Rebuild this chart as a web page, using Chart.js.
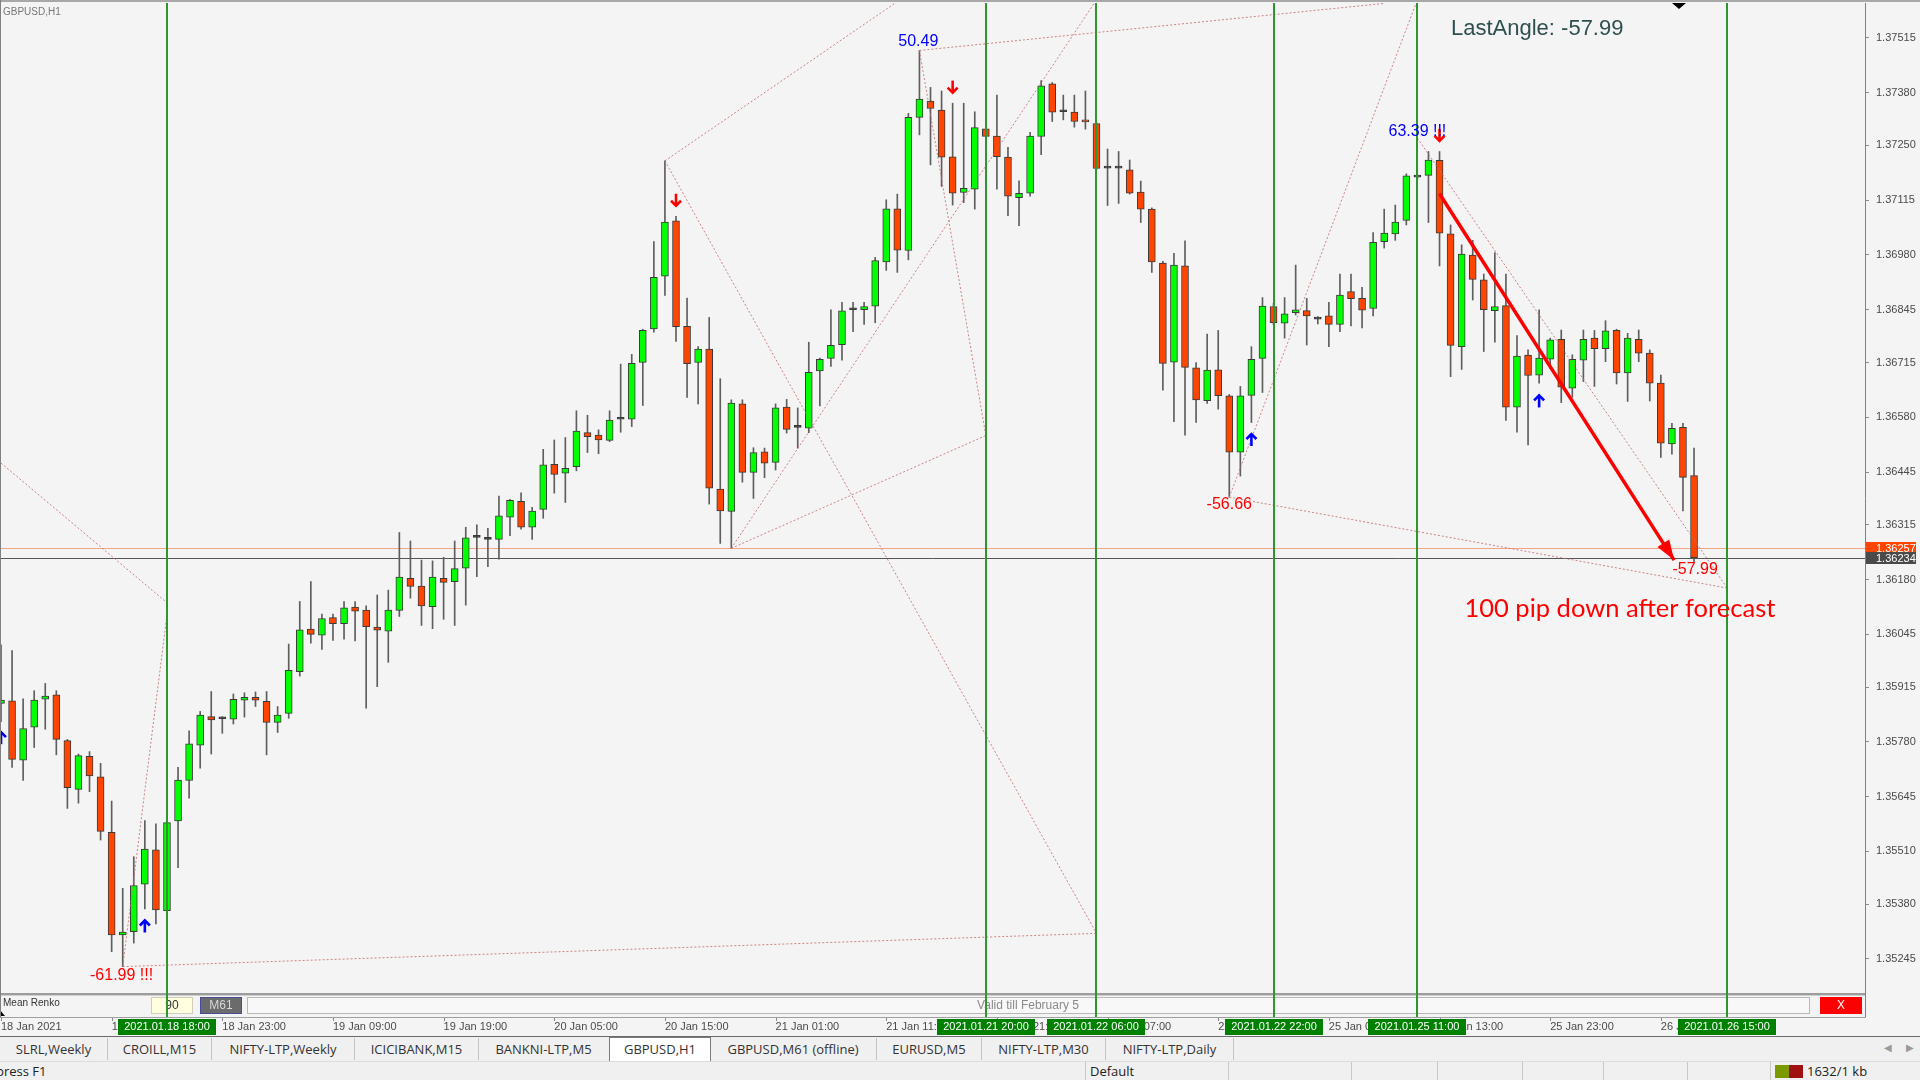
<!DOCTYPE html>
<html>
<head>
<meta charset="utf-8">
<script src="https://cdn.jsdelivr.net/npm/chart.js@4.4.0/dist/chart.umd.min.js"></script>
<style>
html, body { margin: 0; padding: 0; background: #f4f4f4; overflow: hidden; }
#wrap { position: relative; width: 1920px; height: 1080px; }
#chart { position: absolute; left: 0; top: 0; }
#tabs { position: absolute; left: 0; top: 1037px; width: 1920px; height: 24px; background: #f0f0f0;
        font-family: "Open Sans", sans-serif; font-size: 13px; color: #333; }
.tab { position: absolute; top: 1px; height: 22px; line-height: 22px; text-align: center; white-space: nowrap; }
.tab.sep { border-right: 1px solid #c4c4c4; }
.tab.active { background: #fff; border: 1px solid #7a7a7a; border-bottom: none; top: 0; height: 24px; }
#status { position: absolute; left: 0; top: 1061px; width: 1920px; height: 19px; background: #f0f0f0;
          font-family: "Open Sans", sans-serif; font-size: 13px; color: #222; border-top: 1px solid #dcdcdc; }
.cell { position: absolute; top: 0; height: 19px; line-height: 19px; border-left: 1px solid #c8c8c8; padding-left: 4px; white-space: nowrap; }
.nav { position: absolute; top: 1042px; font-size: 10px; color: #9a9a9a; font-family: "DejaVu Sans"; }
</style>
</head>
<body>
<div id="wrap">
  <canvas id="chart" width="1920" height="1080"></canvas>
  <div id="tabs"></div>
  <span class="nav" style="left:1884px">&#9664;</span>
  <span class="nav" style="left:1906px">&#9654;</span>
  <div id="status"></div>
</div>
<script>
/* ================= DATA (GBPUSD H1, bar 0 = 18 Jan 03:00) ================= */
const opens = [1.35875,1.35881,1.35735,1.35816,1.35885,1.35896,1.35783,1.35663,1.35744,1.35694,
  1.35557,1.35304,1.35312,1.35429,1.35514,1.35364,1.35585,1.35685,1.35772,1.35842,
  1.35837,1.35836,1.35883,1.35890,1.35880,1.35828,1.35850,1.35953,1.36058,1.36043,
  1.36086,1.36071,1.36112,1.36105,1.36063,1.36053,1.36104,1.36183,1.36164,1.36113,
  1.36183,1.36175,1.36208,1.36284,1.36279,1.36279,1.36334,1.36373,1.36309,1.36353,
  1.36464,1.36442,1.36458,1.36542,1.36536,1.36523,1.36575,1.36575,1.36715,1.36798,
  1.36928,1.37064,1.36804,1.36715,1.36748,1.36403,1.36348,1.36613,1.36444,1.36495,
  1.36469,1.36605,1.36555,1.36553,1.36694,1.36725,1.36759,1.36845,1.36845,1.36854,
  1.36963,1.37094,1.36991,1.37319,1.37359,1.37337,1.37222,1.37134,1.37142,1.37291,
  1.37273,1.37221,1.37121,1.37132,1.37272,1.37402,1.37333,1.37332,1.37312,1.37304,
  1.37194,1.37194,1.37190,1.37135,1.37093,1.36960,1.36716,1.36953,1.36702,1.36621,
  1.36697,1.36633,1.36494,1.36634,1.36725,1.36853,1.36812,1.36838,1.36843,1.36822,
  1.36830,1.36809,1.36890,1.36873,1.36848,1.37013,1.37032,1.37065,1.37172,1.37176,
  1.37213,1.37032,1.36754,1.36980,1.36919,1.36843,1.36855,1.36605,1.36733,1.36684,
  1.36723,1.36772,1.36652,1.36721,1.36775,1.36749,1.36794,1.36689,1.36772,1.36738,
  1.36664,1.36514,1.36555,1.36436];
const highs = [1.36019,1.36005,1.35886,1.35906,1.35924,1.35906,1.35786,1.35750,1.35756,1.35727,
  1.35634,1.35419,1.35497,1.35586,1.35578,1.35585,1.35717,1.35807,1.35855,1.35904,
  1.35842,1.35898,1.35901,1.35903,1.35904,1.35867,1.36021,1.36126,1.36175,1.36095,
  1.36095,1.36126,1.36126,1.36115,1.36142,1.36154,1.36296,1.36275,1.36228,1.36226,
  1.36235,1.36275,1.36309,1.36315,1.36306,1.36386,1.36378,1.36394,1.36358,1.36501,
  1.36524,1.36530,1.36596,1.36585,1.36549,1.36596,1.36711,1.36735,1.36797,1.37013,
  1.37212,1.37075,1.36874,1.36754,1.36826,1.36675,1.36623,1.36623,1.36505,1.36504,
  1.36613,1.36624,1.36603,1.36765,1.36726,1.36845,1.36863,1.36863,1.36863,1.36974,
  1.37116,1.37130,1.37329,1.37484,1.37393,1.37384,1.37354,1.37354,1.37333,1.37295,
  1.37374,1.37245,1.37163,1.37282,1.37410,1.37405,1.37374,1.37374,1.37384,1.37306,
  1.37241,1.37235,1.37214,1.37162,1.37096,1.36964,1.36984,1.37015,1.36715,1.36785,
  1.36794,1.36636,1.36656,1.36754,1.36875,1.36861,1.36875,1.36955,1.36873,1.36828,
  1.36863,1.36933,1.36933,1.36900,1.37035,1.37093,1.37103,1.37180,1.37177,1.37235,
  1.37235,1.37054,1.37005,1.37016,1.36933,1.36986,1.36933,1.36781,1.36746,1.36845,
  1.36775,1.36795,1.36734,1.36795,1.36794,1.36818,1.36797,1.36787,1.36795,1.36746,
  1.36684,1.36565,1.36565,1.36504];
const lows = [1.35830,1.35717,1.35685,1.35766,1.35811,1.35748,1.35616,1.35629,1.35657,1.35538,
  1.35263,1.35226,1.35284,1.35368,1.35331,1.35360,1.35470,1.35641,1.35715,1.35750,
  1.35801,1.35824,1.35841,1.35867,1.35748,1.35803,1.35838,1.35942,1.36023,1.36008,
  1.36030,1.36033,1.36029,1.35863,1.35916,1.35976,1.36089,1.36134,1.36067,1.36059,
  1.36082,1.36067,1.36117,1.36187,1.36212,1.36230,1.36288,1.36304,1.36279,1.36331,
  1.36393,1.36370,1.36448,1.36493,1.36490,1.36520,1.36543,1.36557,1.36609,1.36790,
  1.36880,1.36767,1.36629,1.36613,1.36366,1.36269,1.36257,1.36420,1.36380,1.36431,
  1.36450,1.36541,1.36504,1.36542,1.36608,1.36705,1.36721,1.36791,1.36809,1.36813,
  1.36942,1.36937,1.36968,1.37276,1.37202,1.37149,1.37103,1.37109,1.37093,1.37270,
  1.37142,1.37077,1.37052,1.37125,1.37227,1.37309,1.37313,1.37295,1.37290,1.37191,
  1.37102,1.37107,1.37130,1.37060,1.36937,1.36647,1.36569,1.36536,1.36567,1.36614,
  1.36600,1.36383,1.36435,1.36567,1.36641,1.36808,1.36775,1.36832,1.36758,1.36810,
  1.36754,1.36791,1.36805,1.36800,1.36830,1.36997,1.37016,1.37054,1.37167,1.37060,
  1.36953,1.36680,1.36698,1.36869,1.36742,1.36765,1.36572,1.36543,1.36512,1.36664,
  1.36701,1.36616,1.36629,1.36668,1.36656,1.36717,1.36662,1.36619,1.36717,1.36620,
  1.36481,1.36489,1.36349,1.36224];
const closes = [1.35883,1.35737,1.35813,1.35883,1.35893,1.35786,1.35667,1.35746,1.35696,1.35559,
  1.35304,1.35311,1.35426,1.35516,1.35366,1.35581,1.35686,1.35775,1.35846,1.35834,
  1.35837,1.35885,1.35890,1.35883,1.35828,1.35846,1.35956,1.36056,1.36045,1.36084,
  1.36071,1.36110,1.36102,1.36064,1.36055,1.36105,1.36186,1.36163,1.36115,1.36186,
  1.36173,1.36207,1.36283,1.36284,1.36279,1.36337,1.36375,1.36309,1.36349,1.36463,
  1.36439,1.36454,1.36546,1.36532,1.36524,1.36573,1.36575,1.36713,1.36794,1.36925,
  1.37061,1.36803,1.36712,1.36748,1.36405,1.36349,1.36615,1.36444,1.36493,1.36467,
  1.36603,1.36550,1.36555,1.36691,1.36723,1.36757,1.36842,1.36845,1.36853,1.36966,
  1.37094,1.36992,1.37319,1.37364,1.37341,1.37221,1.37132,1.37144,1.37294,1.37272,
  1.37222,1.37125,1.37132,1.37273,1.37397,1.37332,1.37333,1.37309,1.37308,1.37193,
  1.37194,1.37194,1.37132,1.37093,1.36963,1.36713,1.36955,1.36703,1.36623,1.36696,
  1.36633,1.36494,1.36633,1.36723,1.36854,1.36813,1.36835,1.36845,1.36830,1.36822,
  1.36809,1.36881,1.36872,1.36844,1.37011,1.37034,1.37061,1.37175,1.37172,1.37214,
  1.37034,1.36757,1.36982,1.36920,1.36845,1.36853,1.36605,1.36731,1.36683,1.36726,
  1.36771,1.36654,1.36723,1.36772,1.36749,1.36793,1.36689,1.36775,1.36738,1.36664,
  1.36516,1.36553,1.36432,1.36234];

const xTickIdx = [0, 10, 20, 30, 40, 50, 60, 70, 80, 90, 100, 110, 120, 130, 140, 150];
const xTickLabels = ["18 Jan 2021", "18 Jan 13:00", "18 Jan 23:00", "19 Jan 09:00", "19 Jan 19:00",
  "20 Jan 05:00", "20 Jan 15:00", "21 Jan 01:00", "21 Jan 11:00", "21 Jan 21:00", "22 Jan 07:00",
  "22 Jan 17:00", "25 Jan 03:00", "25 Jan 13:00", "25 Jan 23:00", "26 Jan 09:00"];
const yTickLabels = ["1.37515", "1.37380", "1.37250", "1.37115", "1.36980", "1.36845", "1.36715",
  "1.36580", "1.36445", "1.36315", "1.36180", "1.36045", "1.35915", "1.35780", "1.35645",
  "1.35510", "1.35380", "1.35245"];

// vertical time lines
const vlineIdx = [15, 89, 99, 115, 128, 156];
const vlineLabels = ["2021.01.18 18:00", "2021.01.21 20:00", "2021.01.22 06:00",
  "2021.01.22 22:00", "2021.01.25 11:00", "2021.01.26 15:00"];

// dotted angle lines
const zzStartIdx   = [0, 15, 11, 60, 60, 66, 66, 83, 83, 111, 111, 128];
const zzStartPrice = [1.36467, 1.36093, 1.35226, 1.37212, 1.37212, 1.36257, 1.36257, 1.37484, 1.37484, 1.36383, 1.36383, 1.37268];
const zzEndIdx     = [15, 11, 99, 99, 82, 99, 89, 89, 125, 128, 156, 156];
const zzEndPrice   = [1.36123, 1.35226, 1.35308, 1.35308, 1.37623, 1.37609, 1.36535, 1.36535, 1.37600, 1.37609, 1.36159, 1.36159];

// forecast arrow
const fcIdx = [130, 151.2];
const fcPrice = [1.37131, 1.36228];

// signal arrows
const downArrowIdx = [61, 86, 130];
const downArrowPrice = [1.37116, 1.37395, 1.37276];
const upArrowIdx = [0, 13, 113, 139];
const upArrowPrice = [1.35789, 1.35325, 1.36524, 1.36619];

// angle labels
const angleText = ["50.49", "63.39 !!!", "-56.66", "-57.99", "-61.99 !!!"];
const angleIdx = [82.9, 128, 111, 153.1, 10.9];
const anglePrice = [1.37505, 1.37283, 1.36364, 1.36204, 1.35205];

const noteText = "100 pip down after forecast";
const noteIdx = 146.3, notePrice = 1.36110;
const lastAngleText = "LastAngle: -57.99";

const bidPrice = 1.36234;
const askPrice = 1.36257;

const tabNames = ["SLRL,Weekly", "CROILL,M15", "NIFTY-LTP,Weekly", "ICICIBANK,M15", "BANKNI-LTP,M5",
  "GBPUSD,H1", "GBPUSD,M61 (offline)", "EURUSD,M5", "NIFTY-LTP,M30", "NIFTY-LTP,Daily"];
const tabEdges = [0, 108, 212, 355, 479, 609, 710, 877, 982, 1106, 1234];
const activeTab = 5;

/* ================= TABS & STATUS BAR ================= */
const tabsEl = document.getElementById("tabs");
tabNames.forEach((name, i) => {
    const d = document.createElement("div");
    d.className = "tab" + (i === activeTab ? " active" : (i + 1 !== activeTab ? " sep" : ""));
    d.style.left = tabEdges[i] + "px";
    d.style.width = (tabEdges[i + 1] - tabEdges[i] - 1) + "px";
    d.textContent = name;
    tabsEl.appendChild(d);
});

const statusEl = document.getElementById("status");
statusEl.innerHTML =
    "<span style='position:absolute;left:-4px;top:0;line-height:19px'>press F1</span>" +
    "<div class='cell' style='left:1085px;width:138px'>Default</div>" +
    [1228, 1351, 1437, 1522, 1603, 1687].map(x => `<div class='cell' style='left:${x}px;width:70px'></div>`).join("") +
    "<div class='cell' style='left:1770px;width:140px'>" +
    "<span style='display:inline-block;width:28px;height:13px;vertical-align:-2px;margin-right:4px;" +
    "background:linear-gradient(to right,#7a9a00 0 50%,#a01010 50%)'></span>1632/1 kb</div>";

/* ================= CHART ================= */
const idx = opens.map((_, i) => i);
const wickData = idx.map(i => ({ x: i, y: [lows[i], highs[i]] }));
const bodyData = idx.map(i => ({ x: i, y: [opens[i], closes[i]] }));
const bodyColors = idx.map(i => closes[i] > opens[i] ? "#00ff00" : (closes[i] < opens[i] ? "#ff4500" : "#333333"));

const zzSets = zzStartIdx.map((s, k) => ({
    type: "line",
    data: [{ x: s, y: zzStartPrice[k] }, { x: zzEndIdx[k], y: zzEndPrice[k] }],
    borderColor: "rgba(196,110,110,0.85)",
    borderWidth: 1,
    borderDash: [2, 2],
    pointRadius: 0,
    order: 0
}));

const fcSet = {
    type: "line",
    data: [{ x: fcIdx[0], y: fcPrice[0] }, { x: fcIdx[1], y: fcPrice[1] }],
    borderColor: "#ff0000",
    borderWidth: 3.5,
    pointRadius: 0,
    order: 0
};

const FONT = "'Liberation Sans', Arial, sans-serif";

function drawSignal(ctx, x, y, up, color) {
    const d = up ? -1 : 1;
    ctx.save();
    ctx.strokeStyle = color;
    ctx.lineWidth = 2.6;
    ctx.beginPath();
    ctx.moveTo(x, y - 6 * d);
    ctx.lineTo(x, y + 5 * d);
    ctx.stroke();
    ctx.beginPath();
    ctx.moveTo(x - 5, y + 1 * d);
    ctx.lineTo(x, y + 6 * d);
    ctx.lineTo(x + 5, y + 1 * d);
    ctx.stroke();
    ctx.restore();
}

const mt4Plugin = {
    id: "mt4",
    beforeDraw(chart) {
        const ctx = chart.ctx;
        ctx.save();
        ctx.fillStyle = "#f4f4f4";
        ctx.fillRect(0, 0, chart.width, chart.height);
        ctx.restore();
    },
    beforeDatasetsDraw(chart) {
        const { ctx, chartArea: a, scales: { y } } = chart;
        ctx.save();
        // indicator sub-window (Mean Renko)
        ctx.fillStyle = "#9c9c9c";
        ctx.fillRect(0, a.bottom, a.right, 2);
        ctx.fillStyle = "#d0d0d0";
        ctx.fillRect(0, a.bottom + 2, a.right, 1);
        ctx.fillStyle = "#a0a0a0";
        ctx.fillRect(0, 1017, a.right + 1, 1);
        ctx.font = "10px " + FONT;
        ctx.fillStyle = "#333";
        ctx.textBaseline = "middle";
        ctx.fillText("Mean Renko", 3, 1003);
        ctx.beginPath();
        ctx.moveTo(0, 1010); ctx.lineTo(0, 1016); ctx.lineTo(5, 1016); ctx.closePath();
        ctx.fillStyle = "#000"; ctx.fill();

        ctx.font = "12px " + FONT;
        ctx.textAlign = "center";
        ctx.fillStyle = "#ffffe0"; ctx.fillRect(151, 997, 42, 17);
        ctx.strokeStyle = "#cfcfb8"; ctx.lineWidth = 1; ctx.strokeRect(151.5, 997.5, 41, 16);
        ctx.fillStyle = "#333"; ctx.fillText("90", 172, 1006);
        ctx.fillStyle = "#6b6b6b"; ctx.fillRect(200, 997, 42, 17);
        ctx.strokeStyle = "#4a4a9a"; ctx.strokeRect(200.5, 997.5, 41, 16);
        ctx.fillStyle = "#d8d8d8"; ctx.fillText("M61", 221, 1006);
        ctx.fillStyle = "#f8f8f8"; ctx.fillRect(247, 997, 1562, 17);
        ctx.strokeStyle = "#b8b8b8"; ctx.strokeRect(247.5, 997.5, 1562, 16);
        ctx.fillStyle = "#8a8a8a"; ctx.fillText("Valid till February 5", 1028, 1006);
        ctx.fillStyle = "#ff0000"; ctx.fillRect(1820, 997, 42, 17);
        ctx.fillStyle = "#fff"; ctx.fillText("X", 1841, 1006);

        // ask / bid lines
        ctx.lineWidth = 1;
        ctx.strokeStyle = "#f2a585";
        const ya = Math.round(y.getPixelForValue(askPrice)) + 0.5;
        ctx.beginPath(); ctx.moveTo(a.left, ya); ctx.lineTo(a.right, ya); ctx.stroke();
        ctx.strokeStyle = "#555";
        const yb = Math.round(y.getPixelForValue(bidPrice)) + 0.5;
        ctx.beginPath(); ctx.moveTo(a.left, yb); ctx.lineTo(a.right, yb); ctx.stroke();
        ctx.restore();
    },
    afterDatasetsDraw(chart) {
        const { ctx, chartArea: a, scales: { x, y } } = chart;
        ctx.save();
        // vertical time lines (through sub-window too)
        ctx.strokeStyle = "#2f962f";
        ctx.lineWidth = 2;
        vlineIdx.forEach(v => {
            const px = Math.round(x.getPixelForValue(v));
            ctx.beginPath(); ctx.moveTo(px, a.top); ctx.lineTo(px, 1017); ctx.stroke();
        });

        // forecast arrow head
        const x0 = x.getPixelForValue(fcIdx[0]), y0 = y.getPixelForValue(fcPrice[0]);
        const x1 = x.getPixelForValue(fcIdx[1]), y1 = y.getPixelForValue(fcPrice[1]);
        const ang = Math.atan2(y1 - y0, x1 - x0);
        ctx.fillStyle = "#ff0000";
        ctx.beginPath();
        ctx.moveTo(x1, y1);
        ctx.lineTo(x1 - 20 * Math.cos(ang) + 7 * Math.sin(ang), y1 - 20 * Math.sin(ang) - 7 * Math.cos(ang));
        ctx.lineTo(x1 - 20 * Math.cos(ang) - 7 * Math.sin(ang), y1 - 20 * Math.sin(ang) + 7 * Math.cos(ang));
        ctx.closePath();
        ctx.fill();

        // signal arrows
        downArrowIdx.forEach((v, k) => drawSignal(ctx, x.getPixelForValue(v), y.getPixelForValue(downArrowPrice[k]), false, "#ff0000"));
        upArrowIdx.forEach((v, k) => drawSignal(ctx, x.getPixelForValue(v), y.getPixelForValue(upArrowPrice[k]), true, "#0000ff"));

        // angle labels
        ctx.font = "16px " + FONT;
        ctx.textAlign = "center";
        ctx.textBaseline = "middle";
        angleText.forEach((t, k) => {
            ctx.fillStyle = t.startsWith("-") ? "#ff0000" : "#0000ff";
            ctx.fillText(t, x.getPixelForValue(angleIdx[k]), y.getPixelForValue(anglePrice[k]));
        });

        // notes
        ctx.font = "25.5px Lato, " + FONT;
        ctx.fillStyle = "#ff0000";
        ctx.fillText(noteText, x.getPixelForValue(noteIdx), y.getPixelForValue(notePrice) + 1);
        ctx.textAlign = "left";
        ctx.font = "22px " + FONT;
        ctx.fillStyle = "#2f4f4f";
        ctx.fillText(lastAngleText, 1451, 29);

        ctx.font = "10px " + FONT;
        ctx.fillStyle = "#777";
        ctx.fillText("GBPUSD,H1", 3, 12);

        // chart shift marker
        ctx.fillStyle = "#000";
        ctx.beginPath();
        ctx.moveTo(1672, 3); ctx.lineTo(1686, 3); ctx.lineTo(1679, 9); ctx.closePath();
        ctx.fill();
        ctx.restore();
    },
    afterDraw(chart) {
        const { ctx, chartArea: a, scales: { x, y } } = chart;
        ctx.save();
        // frame
        ctx.fillStyle = "#a8a8a8";
        ctx.fillRect(0, 0, chart.width, 2);
        ctx.fillStyle = "#808080";
        ctx.fillRect(0, 0, 1, 1017);
        ctx.fillRect(a.right, a.bottom, 1, 1017 - a.bottom);
        // time-axis tick marks
        ctx.strokeStyle = "#8a8a8a";
        ctx.lineWidth = 1;
        xTickIdx.forEach(v => {
            const px = Math.round(x.getPixelForValue(v)) + 0.5;
            ctx.beginPath(); ctx.moveTo(px, 1018); ctx.lineTo(px, 1021); ctx.stroke();
        });
        // green time boxes
        ctx.font = "11px " + FONT;
        ctx.textAlign = "center";
        ctx.textBaseline = "middle";
        vlineIdx.forEach((v, k) => {
            const px = Math.round(x.getPixelForValue(v));
            ctx.fillStyle = "#008000";
            ctx.fillRect(px - 49, 1019, 98, 16);
            ctx.fillStyle = "#fff";
            ctx.fillText(vlineLabels[k], px, 1027);
        });
        ctx.fillStyle = "#6a6a6a";
        ctx.fillRect(0, 1036, chart.width, 1);
        // price boxes on right axis
        [[askPrice, "#ff4500"], [bidPrice, "#4a4a4a"]].forEach(([p, c]) => {
            const py = Math.round(y.getPixelForValue(p));
            ctx.fillStyle = c;
            ctx.fillRect(a.right + 1, py - 6, 50, 12);
            ctx.fillStyle = "#fff";
            ctx.textAlign = "left";
            ctx.fillText(p.toFixed(5), a.right + 11, py + 0.5);
        });
        ctx.restore();
    }
};

new Chart(document.getElementById("chart").getContext("2d"), {
    type: "bar",
    data: {
        datasets: [
            { type: "bar", data: wickData, barThickness: 1, backgroundColor: "#5e5e5e", grouped: false, order: 3 },
            { type: "bar", data: bodyData, barThickness: 7, backgroundColor: bodyColors, borderColor: "#3a3a3a",
              borderWidth: 1, borderSkipped: false, minBarLength: 2, grouped: false, order: 2 },
            ...zzSets,
            fcSet
        ]
    },
    options: {
        responsive: false,
        animation: false,
        events: [],
        layout: { padding: { top: 3, left: 0, right: 0, bottom: 0 } },
        plugins: { legend: { display: false }, tooltip: { enabled: false } },
        scales: {
            x: {
                type: "linear",
                min: -0.09,
                max: 168.45,
                offset: false,
                grid: { display: false, drawTicks: false },
                border: { display: false },
                ticks: {
                    autoSkip: false,
                    maxRotation: 0,
                    align: "start",
                    padding: 27,
                    color: "#4a4a4a",
                    font: { family: "Liberation Sans", size: 11 },
                    callback: (v, i) => xTickLabels[i]
                },
                afterBuildTicks: s => { s.ticks = xTickIdx.map(v => ({ value: v })); },
                afterFit: s => { s.height = 87; s.paddingLeft = 0; s.paddingRight = 0; }
            },
            y: {
                position: "right",
                min: 1.35161,
                max: 1.37601,
                grid: { display: true, drawOnChartArea: false, drawTicks: true, tickLength: 4, color: "#8a8a8a" },
                border: { display: true, color: "#808080" },
                ticks: {
                    padding: 7,
                    color: "#4a4a4a",
                    font: { family: "Liberation Sans", size: 11 },
                    callback: (v, i) => yTickLabels[i]
                },
                afterBuildTicks: s => { s.ticks = yTickLabels.map(t => ({ value: parseFloat(t) })); },
                afterFit: s => { s.width = 55; s.paddingTop = 0; s.paddingBottom = 0; }
            }
        }
    },
    plugins: [mt4Plugin]
});
</script>
</body>
</html>
